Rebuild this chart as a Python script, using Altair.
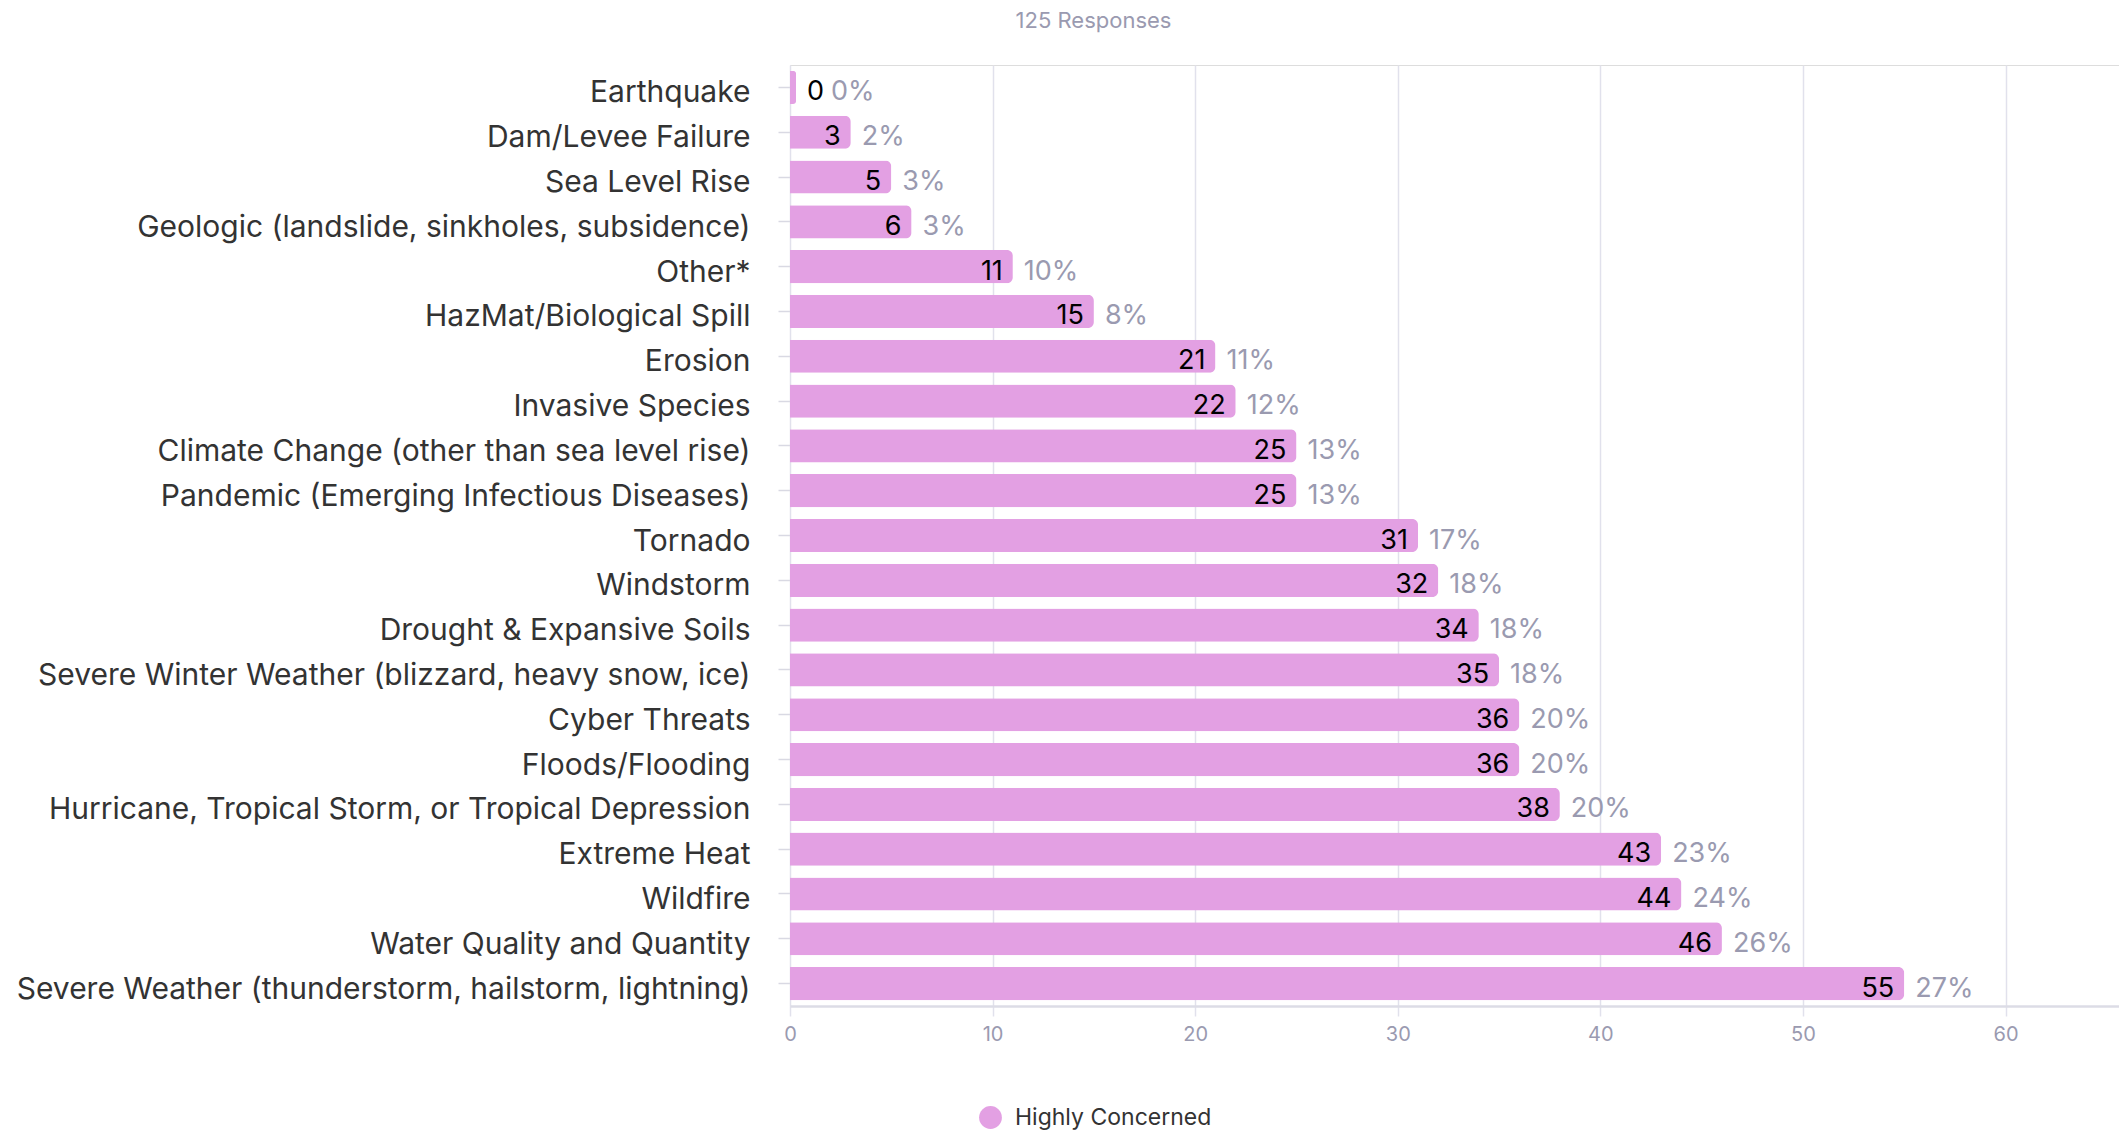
import altair as alt
import pandas as pd

categories = [
    "Earthquake",
    "Dam/Levee Failure",
    "Sea Level Rise",
    "Geologic (landslide, sinkholes, subsidence)",
    "Other*",
    "HazMat/Biological Spill",
    "Erosion",
    "Invasive Species",
    "Climate Change (other than sea level rise)",
    "Pandemic (Emerging Infectious Diseases)",
    "Tornado",
    "Windstorm",
    "Drought & Expansive Soils",
    "Severe Winter Weather (blizzard, heavy snow, ice)",
    "Cyber Threats",
    "Floods/Flooding",
    "Hurricane, Tropical Storm, or Tropical Depression",
    "Extreme Heat",
    "Wildfire",
    "Water Quality and Quantity",
    "Severe Weather (thunderstorm, hailstorm, lightning)",
]
values = [0, 3, 5, 6, 11, 15, 21, 22, 25, 25, 31, 32, 34, 35, 36, 36, 38, 43, 44, 46, 55]
percents = ["0%", "2%", "3%", "3%", "10%", "8%", "11%", "12%", "13%", "13%", "17%",
            "18%", "18%", "18%", "20%", "20%", "20%", "23%", "24%", "26%", "27%"]
series_name = "Highly Concerned"
subtitle = "125 Responses"

df = pd.DataFrame({
    "category": categories,
    "value": values,
    "pct": percents,
    "series": [series_name] * len(categories),
})

FONT = "Inter"
PINK = "#E3A0E3"
GRAY = "#9a9ab0"

y_enc = alt.Y(
    "category:N",
    sort=None,
    title=None,
    scale=alt.Scale(paddingInner=0.26, paddingOuter=0.13),
    axis=alt.Axis(
        labelFontSize=30,
        labelColor="#333333",
        labelFont=FONT,
        labelPadding=28,
        labelOffset=6,
        tickSize=12,
        tickColor="#d9d9e3",
        tickWidth=1.5,
        domain=False,
        grid=False,
        labelLimit=1000,
    ),
)

x_scale = alt.Scale(domain=[0, 65.6], nice=False, zero=True)
x_axis = alt.Axis(
    values=[0, 10, 20, 30, 40, 50, 60],
    grid=True,
    gridColor="#e1e1ec",
    gridWidth=1.5,
    domainColor="#dcdce6",
    domainWidth=2.5,
    tickColor="#e1e1ec",
    tickWidth=1.5,
    tickSize=10,
    labelFontSize=20,
    labelColor=GRAY,
    labelFont=FONT,
    labelPadding=8,
    labelFlush=False,
    title=None,
)

base = alt.Chart(df).transform_calculate(
    bar_end="max(datum.value, 0.3)"
)

bars = base.mark_bar(cornerRadiusEnd=6).encode(
    y=y_enc,
    x=alt.X("bar_end:Q", scale=x_scale, axis=x_axis),
    color=alt.Color(
        "series:N",
        scale=alt.Scale(range=[PINK]),
        legend=alt.Legend(
            title=None,
            orient="none",
            legendX=188,
            legendY=1040,
            symbolType="circle",
            symbolSize=520,
            symbolOpacity=1,
            labelFontSize=23,
            labelColor="#333333",
            labelFont=FONT,
            labelOffset=12,
            labelLimit=600,
        ),
    ),
)

val_in = base.transform_filter("datum.value > 0").mark_text(
    align="right", baseline="middle", dx=-10, dy=5, fontSize=27, color="#000000", font=FONT
).encode(
    y=alt.Y("category:N", sort=None),
    x=alt.X("value:Q"),
    text="value:Q",
)

val_out = base.transform_filter("datum.value == 0").mark_text(
    align="left", baseline="middle", dx=11, dy=5, fontSize=27, color="#000000", font=FONT
).encode(
    y=alt.Y("category:N", sort=None),
    x=alt.X("bar_end:Q"),
    text="value:Q",
)

pct_in = base.transform_filter("datum.value > 0").mark_text(
    align="left", baseline="middle", dx=11, dy=5, fontSize=27, color=GRAY, font=FONT
).encode(
    y=alt.Y("category:N", sort=None),
    x=alt.X("value:Q"),
    text="pct:N",
)

pct_out = base.transform_filter("datum.value == 0").mark_text(
    align="left", baseline="middle", dx=35, dy=5, fontSize=27, color=GRAY, font=FONT
).encode(
    y=alt.Y("category:N", sort=None),
    x=alt.X("bar_end:Q"),
    text="pct:N",
)

chart = alt.layer(bars, val_in, val_out, pct_in, pct_out).properties(
    width=1329,
    height=941,
    title=alt.TitleParams(
        subtitle,
        fontSize=22,
        color=GRAY,
        fontWeight="normal",
        font=FONT,
        anchor="middle",
        dx=-361,
        offset=32,
    ),
    autosize=alt.AutoSizeParams(type="none"),
    padding={"left": 782, "top": 57, "right": 0, "bottom": 127},
).configure_view(stroke=None).configure(font=FONT)

chart.save("out.html", embed_options={"renderer": "svg", "actions": False})
